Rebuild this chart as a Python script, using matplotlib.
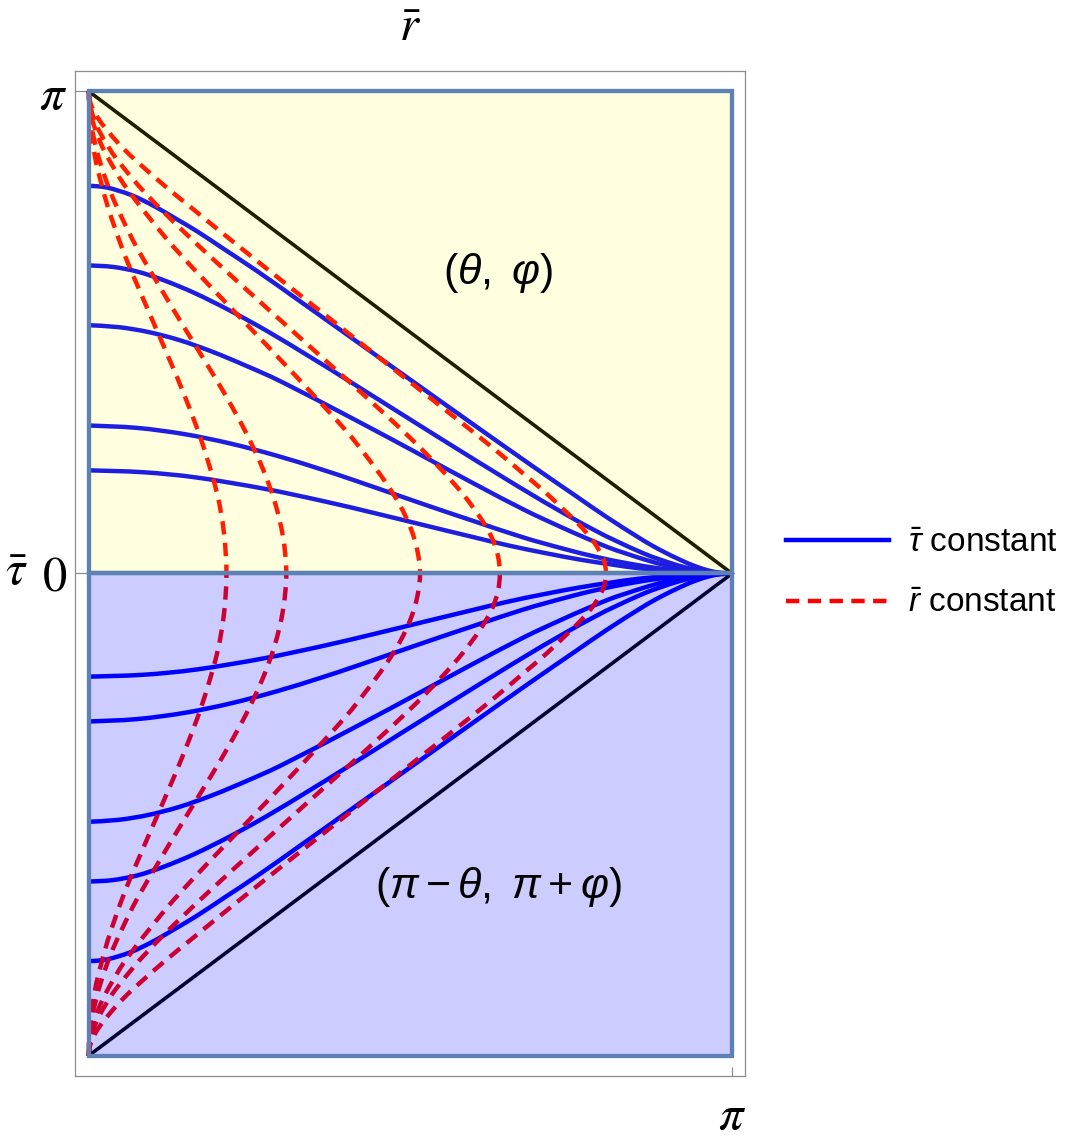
import numpy as np
import matplotlib
matplotlib.use("Agg")
import matplotlib.pyplot as plt
from matplotlib.patches import Rectangle, PathPatch
from matplotlib.path import Path
from matplotlib.lines import Line2D

plt.rcParams["font.family"] = ["Liberation Sans", "DejaVu Sans"]
plt.rcParams["mathtext.fontset"] = "custom"
plt.rcParams["mathtext.rm"] = "Liberation Sans"
plt.rcParams["mathtext.it"] = "Liberation Sans:italic"
plt.rcParams["mathtext.bf"] = "Liberation Sans:bold"

PI = np.pi

# ---------------- data (all coordinates in units of pi) ----------------
# tau-bar = constant curves: upper half (y > 0) and lower half (y < 0)
tau1_x = [0, 0.015, 0.030, 0.046, 0.064, 0.084, 0.107, 0.134, 0.168, 0.210, 0.263, 0.328, 0.404,
          0.562, 0.682, 0.757, 0.804, 0.858, 0.888, 0.920, 0.943, 0.964, 0.979, 0.987, 1]
tau1_y = [0.804, 0.803, 0.800, 0.794, 0.786, 0.774, 0.758, 0.737, 0.710, 0.673, 0.626, 0.565, 0.493,
          0.343, 0.230, 0.161, 0.118, 0.072, 0.049, 0.028, 0.015, 0.006, 0.002, 0.001, 0]
tau1_y_low = [-0.804, -0.803, -0.800, -0.794, -0.786, -0.774, -0.758, -0.737, -0.710, -0.673, -0.626,
              -0.565, -0.493, -0.343, -0.230, -0.161, -0.118, -0.072, -0.049, -0.028, -0.015, -0.006,
              -0.002, -0.001, 0]

tau2_x = [0, 0.037, 0.076, 0.117, 0.164, 0.217, 0.277, 0.343, 0.412, 0.542, 0.662, 0.737, 0.786,
          0.819, 0.862, 0.888, 0.918, 0.946, 0.968, 0.982, 1]
tau2_y = [0.639, 0.636, 0.626, 0.608, 0.582, 0.547, 0.503, 0.450, 0.393, 0.284, 0.185, 0.126, 0.090,
          0.068, 0.042, 0.029, 0.016, 0.007, 0.003, 0.001, 0]
tau2_y_low = [-0.639, -0.636, -0.626, -0.608, -0.582, -0.547, -0.503, -0.450, -0.393, -0.284, -0.185,
              -0.126, -0.090, -0.068, -0.042, -0.029, -0.016, -0.007, -0.003, -0.001, 0]

tau3_x = [0, 0.046, 0.092, 0.141, 0.192, 0.246, 0.302, 0.415, 0.516, 0.598, 0.677, 0.733, 0.772,
          0.808, 0.834, 0.869, 0.900, 0.929, 0.954, 0.975, 1]
tau3_y = [0.515, 0.511, 0.501, 0.484, 0.460, 0.430, 0.396, 0.318, 0.246, 0.187, 0.132, 0.097, 0.074,
          0.054, 0.042, 0.027, 0.016, 0.008, 0.003, 0.001, 0]
tau3_y_low = [-0.515, -0.511, -0.501, -0.484, -0.460, -0.430, -0.396, -0.318, -0.246, -0.187, -0.132,
              -0.097, -0.074, -0.054, -0.042, -0.027, -0.016, -0.008, -0.003, -0.001, 0]

tau4_x = [0, 0.075, 0.149, 0.222, 0.293, 0.359, 0.420, 0.522, 0.600, 0.675, 0.739, 0.790, 0.842,
          0.885, 0.921, 0.947, 0.968, 1]
tau4_y = [0.307, 0.302, 0.289, 0.269, 0.244, 0.217, 0.190, 0.143, 0.108, 0.075, 0.051, 0.034, 0.020,
          0.011, 0.005, 0.002, 0.001, 0]
tau4_y_low = [-0.307, -0.302, -0.289, -0.269, -0.244, -0.217, -0.190, -0.143, -0.108, -0.075, -0.051,
              -0.034, -0.020, -0.011, -0.005, -0.002, -0.001, 0]

tau5_x = [0, 0.085, 0.168, 0.272, 0.365, 0.445, 0.528, 0.593, 0.653, 0.711, 0.763, 0.811, 0.854,
          0.895, 0.929, 0.955, 0.975, 1]
tau5_y = [0.214, 0.210, 0.199, 0.176, 0.150, 0.125, 0.098, 0.077, 0.058, 0.042, 0.029, 0.019, 0.011,
          0.006, 0.003, 0.001, 0.000, 0]
tau5_y_low = [-0.214, -0.210, -0.199, -0.176, -0.150, -0.125, -0.098, -0.077, -0.058, -0.042, -0.029,
              -0.019, -0.011, -0.006, -0.003, -0.001, 0.000, 0]

# r-bar = constant curves: from the axis tau=0 up to the apex (upper) and down to the apex (lower)
rc1_x = [0.804, 0.803, 0.800, 0.794, 0.786, 0.774, 0.758, 0.737, 0.710, 0.673, 0.626, 0.565, 0.493,
         0.343, 0.230, 0.161, 0.118, 0.072, 0.049, 0.028, 0.015, 0.006, 0.002, 0.001, 0]
rc1_y = [0, 0.015, 0.030, 0.046, 0.064, 0.084, 0.107, 0.134, 0.168, 0.210, 0.263, 0.328, 0.404,
         0.562, 0.682, 0.757, 0.804, 0.858, 0.888, 0.920, 0.943, 0.964, 0.979, 0.987, 1]
rc1_y_low = [0, -0.015, -0.030, -0.046, -0.064, -0.084, -0.107, -0.134, -0.168, -0.210, -0.263, -0.328,
             -0.404, -0.562, -0.682, -0.757, -0.804, -0.858, -0.888, -0.920, -0.943, -0.964, -0.979,
             -0.987, -1]

rc2_x = [0.639, 0.636, 0.626, 0.608, 0.582, 0.547, 0.503, 0.450, 0.393, 0.284, 0.185, 0.126, 0.090,
         0.068, 0.042, 0.029, 0.016, 0.007, 0.003, 0.001, 0]
rc2_y = [0, 0.037, 0.076, 0.117, 0.164, 0.217, 0.277, 0.343, 0.412, 0.542, 0.662, 0.737, 0.786,
         0.819, 0.862, 0.888, 0.918, 0.946, 0.968, 0.982, 1]
rc2_y_low = [0, -0.037, -0.076, -0.117, -0.164, -0.217, -0.277, -0.343, -0.412, -0.542, -0.662, -0.737,
             -0.786, -0.819, -0.862, -0.888, -0.918, -0.946, -0.968, -0.982, -1]

rc3_x = [0.515, 0.511, 0.501, 0.484, 0.460, 0.430, 0.396, 0.318, 0.246, 0.187, 0.132, 0.097, 0.074,
         0.054, 0.042, 0.027, 0.016, 0.008, 0.003, 0.001, 0]
rc3_y = [0, 0.046, 0.092, 0.141, 0.192, 0.246, 0.302, 0.415, 0.516, 0.598, 0.677, 0.733, 0.772,
         0.808, 0.834, 0.869, 0.900, 0.929, 0.954, 0.975, 1]
rc3_y_low = [0, -0.046, -0.092, -0.141, -0.192, -0.246, -0.302, -0.415, -0.516, -0.598, -0.677, -0.733,
             -0.772, -0.808, -0.834, -0.869, -0.900, -0.929, -0.954, -0.975, -1]

rc4_x = [0.307, 0.302, 0.289, 0.269, 0.244, 0.217, 0.190, 0.143, 0.108, 0.075, 0.051, 0.034, 0.020,
         0.011, 0.005, 0.002, 0.001, 0]
rc4_y = [0, 0.075, 0.149, 0.222, 0.293, 0.359, 0.420, 0.522, 0.600, 0.675, 0.739, 0.790, 0.842,
         0.885, 0.921, 0.947, 0.968, 1]
rc4_y_low = [0, -0.075, -0.149, -0.222, -0.293, -0.359, -0.420, -0.522, -0.600, -0.675, -0.739, -0.790,
             -0.842, -0.885, -0.921, -0.947, -0.968, -1]

rc5_x = [0.214, 0.210, 0.199, 0.176, 0.150, 0.125, 0.098, 0.077, 0.058, 0.042, 0.029, 0.019, 0.011,
         0.006, 0.003, 0.001, 0.000, 0]
rc5_y = [0, 0.085, 0.168, 0.272, 0.365, 0.445, 0.528, 0.593, 0.653, 0.711, 0.763, 0.811, 0.854,
         0.895, 0.929, 0.955, 0.975, 1]
rc5_y_low = [0, -0.085, -0.168, -0.272, -0.365, -0.445, -0.528, -0.593, -0.653, -0.711, -0.763, -0.811,
             -0.854, -0.895, -0.929, -0.955, -0.975, -1]

# boundary diagonals
diag_x = [0, 1]
diag_top_y = [1, 0]
diag_low_y = [-1, 0]

# region rectangles (x0, y0, width, height)
region_top = (0, 0, 1, 1)
region_low = (0, -1, 1, 1)

# tick positions / labels
ytick_vals = [0, 1]
ytick_labels = [r"$0$", r"$\pi$"]
xtick_vals = [1]
xtick_labels = [r"$\pi$"]

legend_labels = [r"$\bar{\tau}$ constant", r"$\bar{r}$ constant"]

# ---------------- styling ----------------
BLUE = "#0000ff"
RED = "#ff0000"
EDGE = "#5e81b5"
FRAME = "#8c8c8c"
LW = 3.2
DASH = (3.0, 1.9)


def smooth_curve(ax, xs, ys, **kw):
    """Draw a smooth (Catmull-Rom / cubic Bezier) stroke through the given data points."""
    P = np.column_stack([np.asarray(xs, float), np.asarray(ys, float)]) * PI
    n = len(P)
    verts = [P[0]]
    codes = [Path.MOVETO]
    for i in range(n - 1):
        p0 = P[i - 1] if i > 0 else P[i]
        p1, p2 = P[i], P[i + 1]
        p3 = P[i + 2] if i + 2 < n else P[i + 1]
        verts += [p1 + (p2 - p0) / 6.0, p2 - (p3 - p1) / 6.0, p2]
        codes += [Path.CURVE4] * 3
    patch = PathPatch(Path(verts, codes), fill=False, capstyle="butt", joinstyle="round", **kw)
    ax.add_patch(patch)
    return patch


fig = plt.figure(figsize=(10.8, 11.4), dpi=100)
ax = fig.add_axes([75 / 1080, 1 - 1076 / 1140, 670 / 1080, (1076 - 70.7) / 1140])
ax.set_xlim(-0.0215 * PI, 1.0202 * PI)
ax.set_ylim(-1.0423 * PI, 1.0429 * PI)

tau_curves = [(tau1_x, tau1_y, tau1_y_low), (tau2_x, tau2_y, tau2_y_low),
              (tau3_x, tau3_y, tau3_y_low), (tau4_x, tau4_y, tau4_y_low),
              (tau5_x, tau5_y, tau5_y_low)]
r_curves = [(rc1_x, rc1_y, rc1_y_low), (rc2_x, rc2_y, rc2_y_low), (rc3_x, rc3_y, rc3_y_low),
            (rc4_x, rc4_y, rc4_y_low), (rc5_x, rc5_y, rc5_y_low)]

for x, y, ylow in tau_curves:
    smooth_curve(ax, x, y, edgecolor=BLUE, lw=LW, zorder=2)
    smooth_curve(ax, x, ylow, edgecolor=BLUE, lw=LW, zorder=2)

for x, y, ylow in r_curves:
    smooth_curve(ax, x[::-1] + x[1:], ylow[::-1] + y[1:], edgecolor=RED, lw=LW,
                 linestyle=(0, DASH), zorder=3)

ax.plot(np.array(diag_x) * PI, np.array(diag_top_y) * PI, color="black", lw=2.6, zorder=3)
ax.plot(np.array(diag_x) * PI, np.array(diag_low_y) * PI, color="black", lw=2.6, zorder=3)

# translucent region overlays (drawn over the curves)
for (x0, y0, w, h), col, a in [(region_top, (1, 1, 0), 0.12), (region_low, (0, 0, 1), 0.2)]:
    ax.add_patch(Rectangle((x0 * PI, y0 * PI), w * PI, h * PI, facecolor=col, alpha=a,
                           edgecolor="none", zorder=5))
    ax.add_patch(Rectangle((x0 * PI, y0 * PI), w * PI, h * PI, fill=False, edgecolor=EDGE,
                           lw=3.1, joinstyle="miter", zorder=6))

ax.text(0.636 * PI, 0.623 * PI, r"$(\theta,\ \varphi)$", fontsize=31, ha="center", va="center", zorder=7)
ax.text(0.637 * PI, -0.650 * PI, r"$(\pi-\theta,\ \pi+\varphi)$", fontsize=31, ha="center", va="center",
        zorder=7)

# frame / ticks
for sp in ax.spines.values():
    sp.set_color(FRAME)
    sp.set_linewidth(0.9)
ax.set_yticks(np.array(ytick_vals) * PI)
ax.set_yticklabels(ytick_labels)
ax.set_xticks(np.array(xtick_vals) * PI)
ax.set_xticklabels(xtick_labels)
ax.tick_params(axis="y", direction="in", length=8.6, width=0.9, color=FRAME, pad=6, labelsize=35)
ax.tick_params(axis="x", direction="in", length=6.5, width=0.9, color=FRAME, pad=13, labelsize=35)
for lbl in ax.get_xticklabels() + ax.get_yticklabels():
    lbl.set_math_fontfamily("stix")

ax.set_xlabel(r"$\bar{r}$", fontsize=35, math_fontfamily="stix")
ax.xaxis.set_label_position("top")
ax.xaxis.set_label_coords(0.5, 1.0415)
ax.xaxis.label.set_va("center")
ax.xaxis.label.set_ha("center")
ax.set_ylabel(r"$\bar{\tau}$", fontsize=35, math_fontfamily="stix", rotation=0)
ax.yaxis.set_label_coords(-0.088, 0.5013)
ax.yaxis.label.set_va("center")
ax.yaxis.label.set_ha("center")

handles = [Line2D([], [], color=BLUE, lw=LW), Line2D([], [], color=RED, lw=LW, dashes=DASH)]
fig.legend(handles, legend_labels, loc="center left", bbox_to_anchor=(786 / 1080, 1 - 573.5 / 1140),
           frameon=False, fontsize=24, handlelength=3.1, handletextpad=0.55, labelspacing=0.9,
           borderpad=0, borderaxespad=0)

fig.savefig("out.png", dpi=100)
